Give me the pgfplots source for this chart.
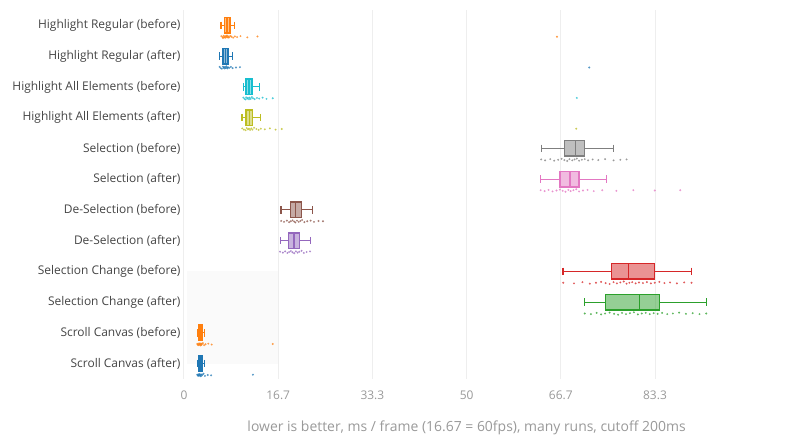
\documentclass[border=0pt]{standalone}
\usepackage{fontspec}
\setmainfont{Open Sans}
\usepackage{pgfplots}
\pgfplotsset{compat=1.18}
\usepgfplotslibrary{statistics}

\definecolor{c0}{HTML}{1F77B4}
\definecolor{c1}{HTML}{FF7F0E}
\definecolor{c2}{HTML}{2CA02C}
\definecolor{c3}{HTML}{D62728}
\definecolor{c4}{HTML}{9467BD}
\definecolor{c5}{HTML}{8C564B}
\definecolor{c6}{HTML}{E377C2}
\definecolor{c7}{HTML}{7F7F7F}
\definecolor{c8}{HTML}{BCBD22}
\definecolor{c9}{HTML}{17BECF}
\definecolor{gridc}{HTML}{EEEEEE}
\definecolor{labc}{HTML}{444444}
\definecolor{tickc}{HTML}{999999}
\definecolor{bandc}{HTML}{FAFAFA}

\pgfplotsset{
  bx/.style={draw=#1, fill=#1, fill opacity=0.5, draw opacity=1, line width=1.4bp, solid},
  pts/.style={only marks, mark=*, mark size=0.8bp, color=#1, opacity=0.6,
    mark options={draw=none, fill=#1}},
}

\begin{document}
\begin{tikzpicture}
\path[use as bounding box] (-184bp,-61bp) rectangle (616bp,379bp);
\begin{axis}[
  scale only axis, width=565.2bp, height=369bp,
  xmin=0, xmax=100, ymin=0.5, ymax=12.5, y dir=reverse,
  axis line style={draw=none}, major tick length=0,
  xtick={0,16.667,33.333,50,66.667,83.333},
  xticklabels={0,16.7,33.3,50,66.7,83.3},
  ytick={1,...,12},
  yticklabels={Highlight Regular (before), Highlight Regular (after),
    Highlight All Elements (before), Highlight All Elements (after),
    Selection (before), Selection (after),
    De-Selection (before), De-Selection (after),
    Selection Change (before), Selection Change (after),
    Scroll Canvas (before), Scroll Canvas (after)},
  xmajorgrids, grid style={color=gridc, line width=1bp},
  x tick label style={text=tickc, font=\fontsize{12}{14}\selectfont, anchor=base, yshift=-20bp},
  y tick label style={text=labc, font=\fontsize{12}{14}\selectfont},
  xlabel={lower is better, ms / frame (16.67 = 60fps), many runs, cutoff 200ms},
  xlabel style={text=tickc, font=\fontsize{14}{16}\selectfont,
    at={(axis description cs:0.5,0)}, anchor=base, yshift=-52bp},
  boxplot/box extend=0.5, boxplot/whisker extend=0.25,
  boxplot/every whisker/.style={fill=none, line width=1.1bp},
  clip=false,
]
% light band behind the lower rows, and the zero line
\fill[bandc] (axis cs:0.5,9) rectangle (axis cs:16.6,12.02);
\draw[gridc, line width=1bp] (axis cs:0,0.5) -- (axis cs:0,12.5);

% Highlight Regular (before)
\addplot[bx=c1, boxplot prepared={draw position=1, lower whisker=6.55, lower quartile=7.13, median=7.6, upper quartile=8.14, upper whisker=8.9}] coordinates {};
\addplot[pts=c1] coordinates {(6.6,1.35) (6.8,1.38) (6.9,1.41) (7.0,1.34) (7.1,1.39) (7.2,1.36) (7.3,1.40) (7.4,1.35)
  (7.5,1.38) (7.6,1.33) (7.7,1.37) (7.8,1.40) (7.9,1.36) (8.0,1.39) (8.2,1.34) (8.4,1.37) (8.7,1.40)
  (9.0,1.36) (9.4,1.38) (10.0,1.35) (11.2,1.39) (13.0,1.36) (66.0,1.37)};

% Highlight Regular (after)
\addplot[bx=c0, boxplot prepared={draw position=2, lower whisker=6.25, lower quartile=6.9, median=7.35, upper quartile=7.78, upper whisker=8.6}] coordinates {};
\addplot[pts=c0] coordinates {(6.3,2.35) (6.5,2.39) (6.7,2.41) (6.9,2.34) (7.0,2.38) (7.1,2.36) (7.2,2.40) (7.3,2.35)
  (7.4,2.39) (7.5,2.33) (7.6,2.37) (7.7,2.40) (7.8,2.36) (8.0,2.38) (8.3,2.35) (8.6,2.39) (9.2,2.37)
  (9.9,2.36) (71.7,2.37)};

% Highlight All Elements (before)
\addplot[bx=c9, boxplot prepared={draw position=3, lower whisker=10.5, lower quartile=11.0, median=11.5, upper quartile=12.0, upper whisker=13.3}] coordinates {};
\addplot[pts=c9] coordinates {(10.5,3.35) (10.7,3.39) (10.9,3.41) (11.0,3.34) (11.2,3.38) (11.3,3.36) (11.5,3.40) (11.6,3.35)
  (11.8,3.39) (12.0,3.33) (12.2,3.37) (12.5,3.40) (12.9,3.36) (13.3,3.38) (13.9,3.35) (14.6,3.39)
  (15.7,3.37) (69.5,3.36)};

% Highlight All Elements (after)
\addplot[bx=c8, boxplot prepared={draw position=4, lower whisker=10.26, lower quartile=11.0, median=11.6, upper quartile=12.15, upper whisker=13.6}] coordinates {};
\addplot[pts=c8] coordinates {(10.3,4.35) (10.6,4.39) (10.9,4.41) (11.1,4.34) (11.3,4.38) (11.5,4.36) (11.7,4.40) (11.9,4.35)
  (12.1,4.39) (12.4,4.33) (12.8,4.37) (13.2,4.40) (13.6,4.36) (14.3,4.38) (15.2,4.35) (16.2,4.39)
  (17.3,4.37) (69.4,4.36)};

% Selection (before)
\addplot[bx=c7, boxplot prepared={draw position=5, lower whisker=63.2, lower quartile=67.3, median=69.3, upper quartile=70.9, upper whisker=76.0}] coordinates {};
\addplot[pts=c7] coordinates {(63.2,5.36) (63.9,5.39) (64.8,5.35) (65.5,5.40) (66.2,5.37) (66.8,5.34) (67.3,5.38) (67.8,5.41)
  (68.2,5.35) (68.7,5.39) (69.1,5.36) (69.5,5.33) (69.9,5.40) (70.4,5.37) (70.9,5.35) (71.5,5.39)
  (72.3,5.36) (73.3,5.38) (74.5,5.35) (76.0,5.39) (77.2,5.37) (78.3,5.36)};

% Selection (after)
\addplot[bx=c6, boxplot prepared={draw position=6, lower whisker=63.1, lower quartile=66.5, median=68.3, upper quartile=69.9, upper whisker=74.7}] coordinates {};
\addplot[pts=c6] coordinates {(63.1,6.36) (63.8,6.39) (64.5,6.35) (65.2,6.40) (65.9,6.37) (66.5,6.34) (67.0,6.38) (67.5,6.41)
  (68.0,6.35) (68.4,6.39) (68.9,6.36) (69.4,6.33) (69.9,6.40) (70.6,6.37) (71.4,6.35) (72.5,6.39)
  (74.0,6.36) (76.5,6.38) (79.5,6.36) (83.3,6.37) (87.8,6.36)};

% De-Selection (before)
\addplot[bx=c5, boxplot prepared={draw position=7, lower whisker=17.16, lower quartile=18.8, median=19.75, upper quartile=20.75, upper whisker=22.77}] coordinates {};
\addplot[pts=c5] coordinates {(17.2,7.36) (17.7,7.39) (18.2,7.35) (18.6,7.40) (18.9,7.37) (19.2,7.34) (19.5,7.38) (19.7,7.41)
  (20.0,7.35) (20.3,7.39) (20.6,7.36) (20.9,7.33) (21.3,7.40) (21.8,7.37) (22.4,7.35) (23.0,7.39)
  (23.8,7.36) (24.6,7.37)};

% De-Selection (after)
\addplot[bx=c4, boxplot prepared={draw position=8, lower whisker=17.0, lower quartile=18.45, median=19.46, upper quartile=20.4, upper whisker=22.35}] coordinates {};
\addplot[pts=c4] coordinates {(17.0,8.36) (17.5,8.39) (17.9,8.35) (18.3,8.40) (18.6,8.37) (18.9,8.34) (19.2,8.38) (19.5,8.41)
  (19.8,8.35) (20.1,8.39) (20.4,8.36) (20.8,8.33) (21.2,8.40) (21.7,8.37) (22.3,8.35)};

% Selection Change (before)
\addplot[bx=c3, boxplot prepared={draw position=9, lower whisker=67.05, lower quartile=75.6, median=78.6, upper quartile=83.2, upper whisker=89.8}] coordinates {};
\addplot[pts=c3] coordinates {(67.1,9.37) (69.0,9.39) (70.5,9.35) (71.8,9.40) (72.9,9.37) (73.8,9.34) (74.6,9.38) (75.3,9.41)
  (76.0,9.35) (76.6,9.39) (77.2,9.36) (77.8,9.33) (78.3,9.40) (78.8,9.37) (79.3,9.35) (79.9,9.39)
  (80.5,9.36) (81.2,9.38) (81.9,9.35) (82.6,9.39) (83.3,9.37) (84.1,9.34) (85.0,9.38) (86.0,9.36)
  (87.2,9.39) (88.5,9.36) (89.8,9.37)};

% Selection Change (after)
\addplot[bx=c2, boxplot prepared={draw position=10, lower whisker=70.9, lower quartile=74.6, median=80.6, upper quartile=84.1, upper whisker=92.4}] coordinates {};
\addplot[pts=c2] coordinates {(70.9,10.37) (72.0,10.39) (73.0,10.35) (73.8,10.40) (74.5,10.37) (75.3,10.34) (76.1,10.38) (76.8,10.41)
  (77.5,10.35) (78.2,10.39) (78.9,10.36) (79.6,10.33) (80.3,10.40) (81.0,10.37) (81.7,10.35) (82.4,10.39)
  (83.1,10.36) (83.8,10.38) (84.6,10.35) (85.5,10.39) (86.5,10.37) (87.6,10.34) (88.8,10.38) (90.0,10.36)
  (91.2,10.39) (92.4,10.37)};

% Scroll Canvas (before)
\addplot[bx=c1, boxplot prepared={draw position=11, lower whisker=2.35, lower quartile=2.65, median=2.9, upper quartile=3.2, upper whisker=3.7}] coordinates {};
\addplot[pts=c1] coordinates {(2.35,11.36) (2.45,11.39) (2.55,11.35) (2.65,11.40) (2.72,11.37) (2.8,11.34) (2.88,11.38) (2.95,11.41)
  (3.02,11.35) (3.1,11.39) (3.2,11.36) (3.35,11.33) (3.55,11.40) (3.8,11.37) (4.3,11.35) (4.9,11.38)
  (15.7,11.36)};

% Scroll Canvas (after)
\addplot[bx=c0, boxplot prepared={draw position=12, lower whisker=2.35, lower quartile=2.6, median=2.85, upper quartile=3.2, upper whisker=3.7}] coordinates {};
\addplot[pts=c0] coordinates {(2.35,12.36) (2.45,12.39) (2.55,12.35) (2.62,12.40) (2.7,12.37) (2.78,12.34) (2.86,12.38) (2.94,12.41)
  (3.02,12.35) (3.12,12.39) (3.25,12.36) (3.45,12.33) (3.7,12.40) (4.2,12.37) (4.8,12.38) (12.2,12.36)};
\end{axis}
\end{tikzpicture}
\end{document}
